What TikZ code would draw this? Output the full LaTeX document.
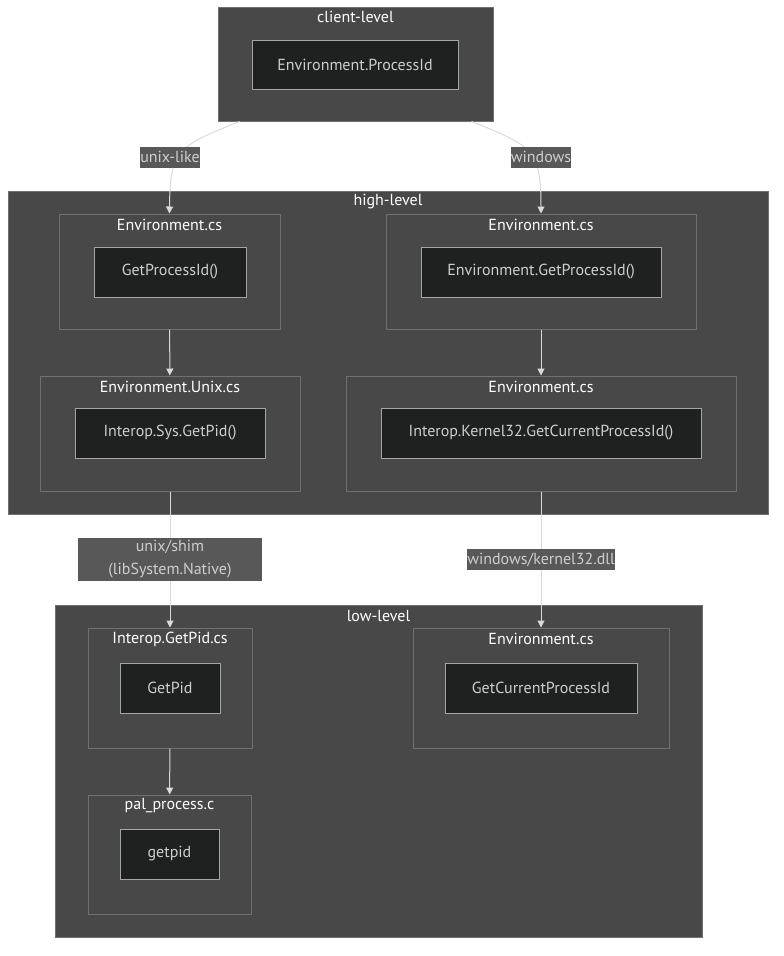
\documentclass[tikz,border=0pt]{standalone}
\usepackage{fontspec}
\setmainfont{PT Sans}
\usetikzlibrary{arrows.meta, calc, fit, positioning}
\definecolor{clusterbg}{RGB}{72,72,72}
\definecolor{clusterline}{RGB}{112,112,112}
\definecolor{boxbg}{RGB}{31,32,32}
\definecolor{boxline}{RGB}{165,165,165}
\definecolor{boxtext}{RGB}{206,206,206}
\definecolor{edgeline}{RGB}{218,218,218}
\definecolor{labelbg}{RGB}{88,88,88}

\begin{document}
\begin{tikzpicture}[x=1pt, y=-1pt,
    cluster/.style={draw=clusterline, fill=clusterbg, line width=1pt, inner sep=0pt},
    title/.style={text=white, font=\fontsize{16}{19}\selectfont, inner sep=0pt},
    fnbox/.style={draw=boxline, fill=boxbg, line width=1pt, text=boxtext,
        font=\fontsize{16}{19}\selectfont, inner sep=0pt},
    lbl/.style={fill=labelbg, text=boxtext, font=\fontsize{16}{19}\selectfont,
        inner sep=0pt, align=center},
    edge/.style={draw=edgeline, line width=1pt, -{Triangle[length=7pt, width=7pt]}}]
    \useasboundingbox (0,0) rectangle (784,956);

    % client level
    \node[cluster, fit={(218,7) (493,121)}] (clientCl) {};
    \node[title] at (355.5,17) {client-level};
    \node[fnbox, minimum width=206pt, minimum height=49pt] (procId) at (355,64.5) {Environment.ProcessId};

    % high level
    \node[cluster, fit={(8,191) (768,514)}] (highCl) {};
    \node[title] at (388,202) {high-level};
    \node[cluster, fit={(59,214) (280,329)}] (envCsL) {};
    \node[title] at (169.5,225) {Environment.cs};
    \node[fnbox, minimum width=152pt, minimum height=50pt] (getProcId) at (170,272) {GetProcessId()};
    \node[cluster, fit={(386,214) (696,329)}] (envCsR) {};
    \node[title] at (541,225) {Environment.cs};
    \node[fnbox, minimum width=240pt, minimum height=50pt] (envGetProcId) at (541,272) {Environment.GetProcessId()};
    \node[cluster, fit={(40,376) (300,491)}] (envUnixCs) {};
    \node[title] at (170,387) {Environment.Unix.cs};
    \node[fnbox, minimum width=190pt, minimum height=50pt] (sysGetPid) at (170,433) {Interop.Sys.GetPid()};
    \node[cluster, fit={(346,376) (736,491)}] (envWinCs) {};
    \node[title] at (541,387) {Environment.cs};
    \node[fnbox, minimum width=320pt, minimum height=50pt] (kernelGetPid) at (541,433) {Interop.Kernel32.GetCurrentProcessId()};

    % low level
    \node[cluster, fit={(55,605) (702,937)}] (lowCl) {};
    \node[title] at (378.5,616) {low-level};
    \node[cluster, fit={(88,628) (252,748)}] (getPidCs) {};
    \node[title] at (170,639) {Interop.GetPid.cs};
    \node[fnbox, minimum width=100pt, minimum height=50pt] (getPidFn) at (170,688) {GetPid};
    \node[cluster, fit={(413,628) (669,748)}] (envLowCs) {};
    \node[title] at (541,639) {Environment.cs};
    \node[fnbox, minimum width=192pt, minimum height=50pt] (getCurPid) at (541,688) {GetCurrentProcessId};
    \node[cluster, fit={(88,795) (251,914)}] (palProcC) {};
    \node[title] at (169.5,806) {pal\_process.c};
    \node[fnbox, minimum width=99pt, minimum height=50pt] (palGetpid) at (169.5,854) {getpid};

    % edges
    \draw[edge] ($(clientCl.south west)+(22,0)$) .. controls (178,146) and (170,150) .. (envCsL.north);
    \draw[edge] ($(clientCl.south east)+(-22,0)$) .. controls (533,146) and (541,150) .. (envCsR.north);
    \node[lbl, minimum width=57pt, minimum height=21pt] (unixLike) at (170,157) {unix-like};
    \node[lbl, minimum width=57pt, minimum height=21pt] (winLbl) at (541,157) {windows};
    \draw[edge] (envCsL) -- (envUnixCs);
    \draw[edge] (envCsR) -- (envWinCs);
    \draw[edge] (envUnixCs) -- (getPidCs)
        node[lbl, midway, minimum width=184pt, minimum height=43pt, font=\fontsize{16}{23}\selectfont] (shimLbl) {unix/shim\\(libSystem.Native)};
    \draw[edge] (envWinCs) -- (envLowCs)
        node[lbl, midway, minimum width=145pt, minimum height=21pt] (kernelLbl) {windows/kernel32.dll};
    \draw[edge] (getPidCs) -- (palProcC);
\end{tikzpicture}
\end{document}
